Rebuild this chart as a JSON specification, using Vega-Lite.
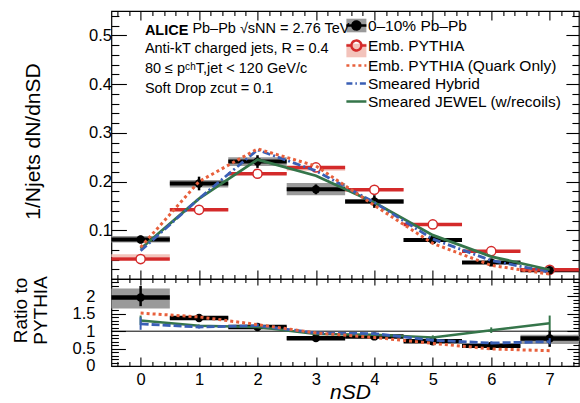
{
"$schema": "https://vega.github.io/schema/vega-lite/v6.json",
"background": "white",
"padding": {"left": 10.4, "top": 7, "right": 0, "bottom": 0},
"spacing": 0,
"bounds": "flush",
"datasets": {
"main": [
{"n":0,"series":"0–10% Pb–Pb","y":0.081,"elo":0.073,"ehi":0.089,"slo":0.075,"shi":0.088},
{"n":1,"series":"0–10% Pb–Pb","y":0.196,"elo":0.182,"ehi":0.210,"slo":0.188,"shi":0.203},
{"n":2,"series":"0–10% Pb–Pb","y":0.241,"elo":0.228,"ehi":0.254,"slo":0.232,"shi":0.250},
{"n":3,"series":"0–10% Pb–Pb","y":0.184,"elo":0.174,"ehi":0.194,"slo":0.172,"shi":0.197},
{"n":4,"series":"0–10% Pb–Pb","y":0.159,"elo":0.146,"ehi":0.172,"slo":0.154,"shi":0.164},
{"n":5,"series":"0–10% Pb–Pb","y":0.080,"elo":0.074,"ehi":0.086,"slo":0.076,"shi":0.084},
{"n":6,"series":"0–10% Pb–Pb","y":0.034,"elo":0.029,"ehi":0.039,"slo":0.031,"shi":0.037},
{"n":7,"series":"0–10% Pb–Pb","y":0.018,"elo":0.014,"ehi":0.022,"slo":0.016,"shi":0.020},
{"n":0,"series":"Emb. PYTHIA","y":0.041,"slo":0.045,"shi":0.051},
{"n":1,"series":"Emb. PYTHIA","y":0.142,"slo":0.140,"shi":0.145},
{"n":2,"series":"Emb. PYTHIA","y":0.216,"slo":0.214,"shi":0.219},
{"n":3,"series":"Emb. PYTHIA","y":0.229,"slo":0.222,"shi":0.228},
{"n":4,"series":"Emb. PYTHIA","y":0.183,"slo":0.181,"shi":0.186},
{"n":5,"series":"Emb. PYTHIA","y":0.112,"slo":0.110,"shi":0.115},
{"n":6,"series":"Emb. PYTHIA","y":0.057,"slo":0.055,"shi":0.059},
{"n":7,"series":"Emb. PYTHIA","y":0.019,"slo":0.017,"shi":0.021},
{"n":0,"series":"Emb. PYTHIA (Quark Only)","y":0.065},
{"n":1,"series":"Emb. PYTHIA (Quark Only)","y":0.200},
{"n":2,"series":"Emb. PYTHIA (Quark Only)","y":0.267},
{"n":3,"series":"Emb. PYTHIA (Quark Only)","y":0.232},
{"n":4,"series":"Emb. PYTHIA (Quark Only)","y":0.151},
{"n":5,"series":"Emb. PYTHIA (Quark Only)","y":0.073},
{"n":6,"series":"Emb. PYTHIA (Quark Only)","y":0.028},
{"n":7,"series":"Emb. PYTHIA (Quark Only)","y":0.010},
{"n":0,"series":"Smeared Hybrid","y":0.058},
{"n":1,"series":"Smeared Hybrid","y":0.165},
{"n":2,"series":"Smeared Hybrid","y":0.265},
{"n":3,"series":"Smeared Hybrid","y":0.222},
{"n":4,"series":"Smeared Hybrid","y":0.157},
{"n":5,"series":"Smeared Hybrid","y":0.082},
{"n":6,"series":"Smeared Hybrid","y":0.038},
{"n":7,"series":"Smeared Hybrid","y":0.014},
{"n":0,"series":"Smeared JEWEL (w/recoils)","y":0.062},
{"n":1,"series":"Smeared JEWEL (w/recoils)","y":0.165},
{"n":2,"series":"Smeared JEWEL (w/recoils)","y":0.245},
{"n":3,"series":"Smeared JEWEL (w/recoils)","y":0.212},
{"n":4,"series":"Smeared JEWEL (w/recoils)","y":0.157},
{"n":5,"series":"Smeared JEWEL (w/recoils)","y":0.090},
{"n":6,"series":"Smeared JEWEL (w/recoils)","y":0.046},
{"n":7,"series":"Smeared JEWEL (w/recoils)","y":0.019}
],
"ratio": [
{"n":0,"series":"data","r":1.97,"elo":1.72,"ehi":2.30,"slo":1.65,"shi":2.23},
{"n":1,"series":"data","r":1.38,"elo":1.31,"ehi":1.45,"slo":1.34,"shi":1.42},
{"n":2,"series":"data","r":1.12,"elo":1.06,"ehi":1.18,"slo":1.09,"shi":1.15},
{"n":3,"series":"data","r":0.80,"elo":0.76,"ehi":0.84,"slo":0.75,"shi":0.85},
{"n":4,"series":"data","r":0.85,"elo":0.80,"ehi":0.90,"slo":0.82,"shi":0.88},
{"n":5,"series":"data","r":0.71,"elo":0.66,"ehi":0.76,"slo":0.68,"shi":0.74},
{"n":6,"series":"data","r":0.58,"elo":0.52,"ehi":0.64,"slo":0.55,"shi":0.61},
{"n":7,"series":"data","r":0.79,"elo":0.55,"ehi":1.02,"slo":0.63,"shi":0.90},
{"n":0,"series":"quark","r":1.52},
{"n":1,"series":"quark","r":1.41},
{"n":2,"series":"quark","r":1.19},
{"n":3,"series":"quark","r":0.95},
{"n":4,"series":"quark","r":0.82},
{"n":5,"series":"quark","r":0.65},
{"n":6,"series":"quark","r":0.49},
{"n":7,"series":"quark","r":0.44},
{"n":0,"series":"hybrid","r":1.21,"elo":1.04,"ehi":1.40},
{"n":1,"series":"hybrid","r":1.12,"elo":1.08,"ehi":1.16},
{"n":2,"series":"hybrid","r":1.16,"elo":1.12,"ehi":1.22},
{"n":3,"series":"hybrid","r":0.95,"elo":0.92,"ehi":0.98},
{"n":4,"series":"hybrid","r":0.93,"elo":0.90,"ehi":0.96},
{"n":5,"series":"hybrid","r":0.74,"elo":0.71,"ehi":0.78},
{"n":6,"series":"hybrid","r":0.66,"elo":0.62,"ehi":0.71},
{"n":7,"series":"hybrid","r":0.70,"elo":0.62,"ehi":0.80},
{"n":0,"series":"jewel","r":1.31,"elo":1.18,"ehi":1.45},
{"n":1,"series":"jewel","r":1.16,"elo":1.13,"ehi":1.19},
{"n":2,"series":"jewel","r":1.12,"elo":1.09,"ehi":1.15},
{"n":3,"series":"jewel","r":0.92,"elo":0.89,"ehi":0.95},
{"n":4,"series":"jewel","r":0.90,"elo":0.87,"ehi":0.93},
{"n":5,"series":"jewel","r":0.82,"elo":0.76,"ehi":0.88},
{"n":6,"series":"jewel","r":1.03,"elo":0.95,"ehi":1.11},
{"n":7,"series":"jewel","r":1.23,"elo":1.02,"ehi":1.45}
]
},
"vconcat": [
{
"width": 467.5,
"height": 268,
"title": {
"text": "ALICE",
"subtitle": ["Anti-kT  charged jets, R = 0.4", "80 ≤ pᶜʰT,jet < 120 GeV/c", "Soft Drop zcut = 0.1"],
"orient": "top", "anchor": "start", "frame": "group", "offset": -89, "dx": 33.5,
"font": "Liberation Sans", "fontSize": 14.5, "fontWeight": "bold", "color": "black", "lineHeight": 20,
"subtitleFont": "Liberation Sans", "subtitleFontSize": 14.5, "subtitleFontWeight": "normal", "subtitleColor": "black", "subtitleLineHeight": 20, "subtitlePadding": 4
},
"resolve": {"scale": {}, "axis": {"x": "independent", "y": "independent"}, "legend": {}},
"layer": [
{
"data": {"name": "main"},
"transform": [{"filter": {"field": "series", "oneOf": ["0–10% Pb–Pb", "Emb. PYTHIA"]}}, {"calculate": "datum.n - 0.5", "as": "x0"}, {"calculate": "datum.n + 0.5", "as": "x1"}],
"mark": {"type": "rect"},
"encoding": {
"x": {"field": "x0", "type": "quantitative", "scale": {"domain": [-0.5, 7.5], "nice": false, "zero": false},
 "axis": {"orient": "bottom", "values": [-0.4,-0.2,0,0.2,0.4,0.6,0.8,1,1.2,1.4,1.6,1.8,2,2.2,2.4,2.6,2.8,3,3.2,3.4,3.6,3.8,4,4.2,4.4,4.6,4.8,5,5.2,5.4,5.6,5.8,6,6.2,6.4,6.6,6.8,7,7.2,7.4], "labels": false, "title": null,
 "tickSize": {"condition": {"test": "abs(datum.value-round(datum.value))<1e-6", "value": -9}, "value": -4.5}}},
"x2": {"field": "x1"},
"y": {"field": "slo", "type": "quantitative", "scale": {"domain": [0, 0.55], "nice": false, "zero": false},
 "axis": {"orient": "left", "values": [0.02,0.04,0.06,0.08,0.1,0.12,0.14,0.16,0.18,0.2,0.22,0.24,0.26,0.28,0.3,0.32,0.34,0.36,0.38,0.4,0.42,0.44,0.46,0.48,0.5,0.52,0.54],
 "tickSize": {"condition": {"test": "abs(datum.value*10-round(datum.value*10))<1e-6", "value": -15}, "value": -7.5},
 "labelExpr": "abs(datum.value*10-round(datum.value*10))<1e-6 ? format(datum.value, '.1f') : ''",
 "labelPadding": 15,
 "title": "1/Njets dN/dnSD", "titleFontSize": 21, "titleAngle": -90, "titleX": -78, "titleY": 130, "titleBaseline": "middle", "titleAlign": "center"}},
"y2": {"field": "shi"},
"fill": {"field": "series", "type": "nominal", "scale": {"domain": ["0–10% Pb–Pb", "Emb. PYTHIA"], "range": ["#9a9a9a", "#f3c3bb"]},
 "legend": {"orient": "none", "legendX": 235.5, "legendY": 5, "title": null, "symbolType": "M-1.25,-0.85H1.25V0.85H-1.25Z", "symbolSize": 256, "symbolStrokeWidth": 2.5, "symbolStrokeColor": "transparent", "rowPadding": 0, "labelFontSize": 15.5, "labelExpr": "''", "labelOffset": 2, "padding": 0, "zindex": 0}}
}
},
{
"data": {"name": "main"},
"transform": [{"filter": {"field": "series", "equal": "0–10% Pb–Pb"}}, {"calculate": "datum.n - 0.5", "as": "x0"}, {"calculate": "datum.n + 0.5", "as": "x1"}],
"mark": {"type": "rule", "stroke": "black", "strokeWidth": 4},
"encoding": {
"x": {"field": "x0", "type": "quantitative", "scale": {"domain": [-0.5, 7.5], "nice": false, "zero": false},
 "axis": {"orient": "top", "values": [-0.4,-0.2,0,0.2,0.4,0.6,0.8,1,1.2,1.4,1.6,1.8,2,2.2,2.4,2.6,2.8,3,3.2,3.4,3.6,3.8,4,4.2,4.4,4.6,4.8,5,5.2,5.4,5.6,5.8,6,6.2,6.4,6.6,6.8,7,7.2,7.4], "labels": false, "title": null,
 "tickSize": {"condition": {"test": "abs(datum.value-round(datum.value))<1e-6", "value": -9}, "value": -4.5}}},
"x2": {"field": "x1"},
"y": {"field": "y", "type": "quantitative", "scale": {"domain": [0, 0.55], "nice": false, "zero": false},
 "axis": {"orient": "right", "values": [0.02,0.04,0.06,0.08,0.1,0.12,0.14,0.16,0.18,0.2,0.22,0.24,0.26,0.28,0.3,0.32,0.34,0.36,0.38,0.4,0.42,0.44,0.46,0.48,0.5,0.52,0.54], "labels": false, "title": null,
 "tickSize": {"condition": {"test": "abs(datum.value*10-round(datum.value*10))<1e-6", "value": -13}, "value": -7}}}
}
},
{
"data": {"name": "main"},
"transform": [{"filter": {"field": "series", "equal": "Emb. PYTHIA"}}, {"calculate": "datum.n - 0.5", "as": "x0"}, {"calculate": "datum.n + 0.5", "as": "x1"}],
"mark": {"type": "rule", "stroke": "#d42a2a", "strokeWidth": 3.5},
"encoding": {
"x": {"field": "x0", "type": "quantitative", "scale": {"domain": [-0.5, 7.5], "nice": false, "zero": false}, "axis": null},
"x2": {"field": "x1"},
"y": {"field": "y", "type": "quantitative", "scale": {"domain": [0, 0.55], "nice": false, "zero": false}, "axis": null}
}
},
{
"data": {"name": "main"},
"transform": [{"filter": {"field": "series", "equal": "0–10% Pb–Pb"}}],
"mark": {"type": "rule", "stroke": "black", "strokeWidth": 2.5},
"encoding": {
"x": {"field": "n", "type": "quantitative", "scale": {"domain": [-0.5, 7.5], "nice": false, "zero": false}, "axis": null},
"y": {"field": "elo", "type": "quantitative", "scale": {"domain": [0, 0.55], "nice": false, "zero": false}, "axis": null},
"y2": {"field": "ehi"}
}
},
{
"data": {"name": "main"},
"transform": [{"filter": {"field": "series", "equal": "Emb. PYTHIA"}}],
"mark": {"type": "point", "shape": "circle", "filled": true, "fill": "white", "stroke": "#d42a2a", "strokeWidth": 1.5, "size": 85, "opacity": 1},
"encoding": {
"x": {"field": "n", "type": "quantitative", "scale": {"domain": [-0.5, 7.5], "nice": false, "zero": false}, "axis": null},
"y": {"field": "y", "type": "quantitative", "scale": {"domain": [0, 0.55], "nice": false, "zero": false}, "axis": null}
}
},
{
"data": {"name": "main"},
"transform": [{"filter": {"field": "series", "equal": "0–10% Pb–Pb"}}],
"mark": {"type": "point", "shape": "circle", "filled": true, "fill": "black", "stroke": "black", "strokeWidth": 0, "size": 70, "opacity": 1},
"encoding": {
"x": {"field": "n", "type": "quantitative", "scale": {"domain": [-0.5, 7.5], "nice": false, "zero": false}, "axis": null},
"y": {"field": "y", "type": "quantitative", "scale": {"domain": [0, 0.55], "nice": false, "zero": false}, "axis": null}
}
},
{
"data": {"name": "main"},
"transform": [{"filter": {"field": "series", "equal": "Smeared JEWEL (w/recoils)"}}],
"mark": {"type": "line", "strokeWidth": 2.8, "interpolate": "linear"},
"encoding": {
"x": {"field": "n", "type": "quantitative", "scale": {"domain": [-0.5, 7.5], "nice": false, "zero": false}, "axis": null},
"y": {"field": "y", "type": "quantitative", "scale": {"domain": [0, 0.55], "nice": false, "zero": false}, "axis": null},
"color": {"field": "series", "type": "nominal",
 "scale": {"domain": ["0–10% Pb–Pb", "Emb. PYTHIA", "Emb. PYTHIA (Quark Only)", "Smeared Hybrid", "Smeared JEWEL (w/recoils)"], "range": ["#000000", "#d42a2a", "#e8603c", "#3a5fb5", "#35754a"]},
 "legend": {"orient": "none", "legendX": 235.5, "legendY": 5, "title": null, "symbolSize": 256, "symbolStrokeWidth": 2.5, "rowPadding": 0, "labelFontSize": 15.5, "labelOffset": 2, "labelLimit": 400, "padding": 0, "zindex": 1,
  "symbolType": {"expr": "datum.value === '0–10% Pb–Pb' ? 'M-1.25,0H1.25M0.5,0A0.5,0.5,0,1,1,-0.5,0A0.5,0.5,0,1,1,0.5,0' : datum.value === 'Emb. PYTHIA' ? 'M-1.25,0H-0.62M0.62,0H1.25M0.62,0A0.62,0.62,0,1,1,-0.62,0A0.62,0.62,0,1,1,0.62,0' : 'M-1.25,0H1.25'"},
  "symbolFillColor": {"expr": "datum.value === '0–10% Pb–Pb' ? '#000000' : 'transparent'"},
  "symbolDash": {"expr": "datum.value === 'Emb. PYTHIA (Quark Only)' ? [3,3] : datum.value === 'Smeared Hybrid' ? [6,3,1.5,3] : [1,0]"}}}
}
},
{
"data": {"name": "main"},
"transform": [{"filter": {"field": "series", "equal": "Smeared Hybrid"}}],
"mark": {"type": "line", "strokeWidth": 2.8, "strokeDash": [8, 3, 2, 3], "interpolate": "linear"},
"encoding": {
"x": {"field": "n", "type": "quantitative", "scale": {"domain": [-0.5, 7.5], "nice": false, "zero": false}, "axis": null},
"y": {"field": "y", "type": "quantitative", "scale": {"domain": [0, 0.55], "nice": false, "zero": false}, "axis": null},
"color": {"field": "series", "type": "nominal",
 "scale": {"domain": ["0–10% Pb–Pb", "Emb. PYTHIA", "Emb. PYTHIA (Quark Only)", "Smeared Hybrid", "Smeared JEWEL (w/recoils)"], "range": ["#000000", "#d42a2a", "#e8603c", "#3a5fb5", "#35754a"]}}
}
},
{
"data": {"name": "main"},
"transform": [{"filter": {"field": "series", "equal": "Emb. PYTHIA (Quark Only)"}}],
"mark": {"type": "line", "strokeWidth": 3, "strokeDash": [3, 3], "interpolate": "linear"},
"encoding": {
"x": {"field": "n", "type": "quantitative", "scale": {"domain": [-0.5, 7.5], "nice": false, "zero": false}, "axis": null},
"y": {"field": "y", "type": "quantitative", "scale": {"domain": [0, 0.55], "nice": false, "zero": false}, "axis": null},
"color": {"field": "series", "type": "nominal",
 "scale": {"domain": ["0–10% Pb–Pb", "Emb. PYTHIA", "Emb. PYTHIA (Quark Only)", "Smeared Hybrid", "Smeared JEWEL (w/recoils)"], "range": ["#000000", "#d42a2a", "#e8603c", "#3a5fb5", "#35754a"]}}
}
}
]
},
{
"width": 467.5,
"height": 87,
"title": {
"text": "Pb–Pb √sNN = 2.76 TeV",
"orient": "top", "anchor": "start", "frame": "group", "offset": 238, "dx": 81,
"font": "Liberation Sans", "fontSize": 14.5, "fontWeight": "normal", "color": "black", "lineHeight": 20
},
"resolve": {"scale": {}, "axis": {"x": "independent", "y": "independent"}, "legend": {}},
"layer": [
{
"data": {"name": "ratio"},
"transform": [{"filter": {"field": "series", "equal": "data"}}, {"calculate": "datum.n - 0.5", "as": "x0"}, {"calculate": "datum.n + 0.5", "as": "x1"}],
"mark": {"type": "rect", "fill": "#9a9a9a"},
"encoding": {
"x": {"field": "x0", "type": "quantitative", "scale": {"domain": [-0.5, 7.5], "nice": false, "zero": false},
 "axis": {"orient": "bottom", "values": [-0.4,-0.2,0,0.2,0.4,0.6,0.8,1,1.2,1.4,1.6,1.8,2,2.2,2.4,2.6,2.8,3,3.2,3.4,3.6,3.8,4,4.2,4.4,4.6,4.8,5,5.2,5.4,5.6,5.8,6,6.2,6.4,6.6,6.8,7,7.2,7.4],
 "tickSize": {"condition": {"test": "abs(datum.value-round(datum.value))<1e-6", "value": -9}, "value": -4.5},
 "labelExpr": "abs(datum.value-round(datum.value))<1e-6 ? format(datum.value, 'd') : ''",
 "labelPadding": 15,
 "title": "nSD", "titleFontSize": 21, "titleFontStyle": "italic", "titleX": 238.5, "titleY": 33, "titleBaseline": "alphabetic", "titleAlign": "center"}},
"x2": {"field": "x1"},
"y": {"field": "slo", "type": "quantitative", "scale": {"domain": [0, 2.5], "nice": false, "zero": false},
 "axis": {"orient": "left", "values": [0,0.1,0.2,0.3,0.4,0.5,0.6,0.7,0.8,0.9,1,1.1,1.2,1.3,1.4,1.5,1.6,1.7,1.8,1.9,2,2.1,2.2,2.3,2.4],
 "tickSize": {"condition": {"test": "abs(datum.value*2-round(datum.value*2))<1e-6", "value": -14}, "value": -7},
 "labelExpr": "abs(datum.value*2-round(datum.value*2))<1e-6 && datum.value < 2.2 ? format(datum.value, '~g') : ''",
 "labelPadding": 30.5,
 "title": ["Ratio to", "PYTHIA"], "titleFontSize": 19, "titleLineHeight": 20, "titleAngle": -90, "titleX": -90.5, "titleY": 31, "titleBaseline": "middle", "titleAlign": "center"}},
"y2": {"field": "shi"}
}
},
{
"data": {"values": [{"ref": 1}]},
"mark": {"type": "rule", "stroke": "black", "strokeWidth": 1},
"encoding": {
"y": {"field": "ref", "type": "quantitative", "scale": {"domain": [0, 2.5], "nice": false, "zero": false}, "axis": null}
}
},
{
"data": {"name": "ratio"},
"transform": [{"filter": {"field": "series", "equal": "data"}}, {"calculate": "datum.n - 0.5", "as": "x0"}, {"calculate": "datum.n + 0.5", "as": "x1"}],
"mark": {"type": "rule", "stroke": "black", "strokeWidth": 4.5},
"encoding": {
"x": {"field": "x0", "type": "quantitative", "scale": {"domain": [-0.5, 7.5], "nice": false, "zero": false},
 "axis": {"orient": "top", "values": [-0.4,-0.2,0,0.2,0.4,0.6,0.8,1,1.2,1.4,1.6,1.8,2,2.2,2.4,2.6,2.8,3,3.2,3.4,3.6,3.8,4,4.2,4.4,4.6,4.8,5,5.2,5.4,5.6,5.8,6,6.2,6.4,6.6,6.8,7,7.2,7.4], "labels": false, "title": null,
 "tickSize": {"condition": {"test": "abs(datum.value-round(datum.value))<1e-6", "value": -6}, "value": -3.5}}},
"x2": {"field": "x1"},
"y": {"field": "r", "type": "quantitative", "scale": {"domain": [0, 2.5], "nice": false, "zero": false},
 "axis": {"orient": "right", "values": [0,0.1,0.2,0.3,0.4,0.5,0.6,0.7,0.8,0.9,1,1.1,1.2,1.3,1.4,1.5,1.6,1.7,1.8,1.9,2,2.1,2.2,2.3,2.4], "labels": false, "title": null,
 "tickSize": {"condition": {"test": "abs(datum.value*2-round(datum.value*2))<1e-6", "value": -12}, "value": -6}}}
}
},
{
"data": {"name": "ratio"},
"transform": [{"filter": {"field": "series", "equal": "data"}}],
"mark": {"type": "rule", "stroke": "black", "strokeWidth": 2.5},
"encoding": {
"x": {"field": "n", "type": "quantitative", "scale": {"domain": [-0.5, 7.5], "nice": false, "zero": false}, "axis": null},
"y": {"field": "elo", "type": "quantitative", "scale": {"domain": [0, 2.5], "nice": false, "zero": false}, "axis": null},
"y2": {"field": "ehi"}
}
},
{
"data": {"name": "ratio"},
"transform": [{"filter": {"field": "series", "equal": "data"}}],
"mark": {"type": "point", "shape": "circle", "filled": true, "fill": "black", "strokeWidth": 0, "size": 70, "opacity": 1},
"encoding": {
"x": {"field": "n", "type": "quantitative", "scale": {"domain": [-0.5, 7.5], "nice": false, "zero": false}, "axis": null},
"y": {"field": "r", "type": "quantitative", "scale": {"domain": [0, 2.5], "nice": false, "zero": false}, "axis": null}
}
},
{
"data": {"name": "ratio"},
"transform": [{"filter": {"field": "series", "equal": "jewel"}}],
"mark": {"type": "rule", "stroke": "#35754a", "strokeWidth": 2},
"encoding": {
"x": {"field": "n", "type": "quantitative", "scale": {"domain": [-0.5, 7.5], "nice": false, "zero": false}, "axis": null},
"y": {"field": "elo", "type": "quantitative", "scale": {"domain": [0, 2.5], "nice": false, "zero": false}, "axis": null},
"y2": {"field": "ehi"}
}
},
{
"data": {"name": "ratio"},
"transform": [{"filter": {"field": "series", "equal": "jewel"}}],
"mark": {"type": "line", "stroke": "#35754a", "strokeWidth": 2.5},
"encoding": {
"x": {"field": "n", "type": "quantitative", "scale": {"domain": [-0.5, 7.5], "nice": false, "zero": false}, "axis": null},
"y": {"field": "r", "type": "quantitative", "scale": {"domain": [0, 2.5], "nice": false, "zero": false}, "axis": null}
}
},
{
"data": {"name": "ratio"},
"transform": [{"filter": {"field": "series", "equal": "hybrid"}}],
"mark": {"type": "rule", "stroke": "#3a5fb5", "strokeWidth": 2},
"encoding": {
"x": {"field": "n", "type": "quantitative", "scale": {"domain": [-0.5, 7.5], "nice": false, "zero": false}, "axis": null},
"y": {"field": "elo", "type": "quantitative", "scale": {"domain": [0, 2.5], "nice": false, "zero": false}, "axis": null},
"y2": {"field": "ehi"}
}
},
{
"data": {"name": "ratio"},
"transform": [{"filter": {"field": "series", "equal": "hybrid"}}],
"mark": {"type": "line", "stroke": "#3a5fb5", "strokeWidth": 2.8, "strokeDash": [8, 3]},
"encoding": {
"x": {"field": "n", "type": "quantitative", "scale": {"domain": [-0.5, 7.5], "nice": false, "zero": false}, "axis": null},
"y": {"field": "r", "type": "quantitative", "scale": {"domain": [0, 2.5], "nice": false, "zero": false}, "axis": null}
}
},
{
"data": {"name": "ratio"},
"transform": [{"filter": {"field": "series", "equal": "quark"}}],
"mark": {"type": "line", "stroke": "#e8603c", "strokeWidth": 3, "strokeDash": [3, 3]},
"encoding": {
"x": {"field": "n", "type": "quantitative", "scale": {"domain": [-0.5, 7.5], "nice": false, "zero": false}, "axis": null},
"y": {"field": "r", "type": "quantitative", "scale": {"domain": [0, 2.5], "nice": false, "zero": false}, "axis": null}
}
}
]
}
],
"resolve": {"scale": {"color": "independent", "fill": "independent"}, "axis": {}, "legend": {"color": "independent", "fill": "independent"}},
"config": {
"font": "Liberation Sans",
"view": {"stroke": "black", "strokeWidth": 1.2},
"axis": {"domain": false, "grid": false, "labelFont": "Liberation Sans", "labelFontSize": 16.5, "labelColor": "black", "labelOverlap": false, "labelFlush": false, "tickColor": "black", "tickWidth": 1.1, "titleFont": "Liberation Sans", "titleColor": "black", "titleFontWeight": "normal"},
"legend": {"labelFont": "Liberation Sans", "labelColor": "black", "labelLimit": 400}
}
}
